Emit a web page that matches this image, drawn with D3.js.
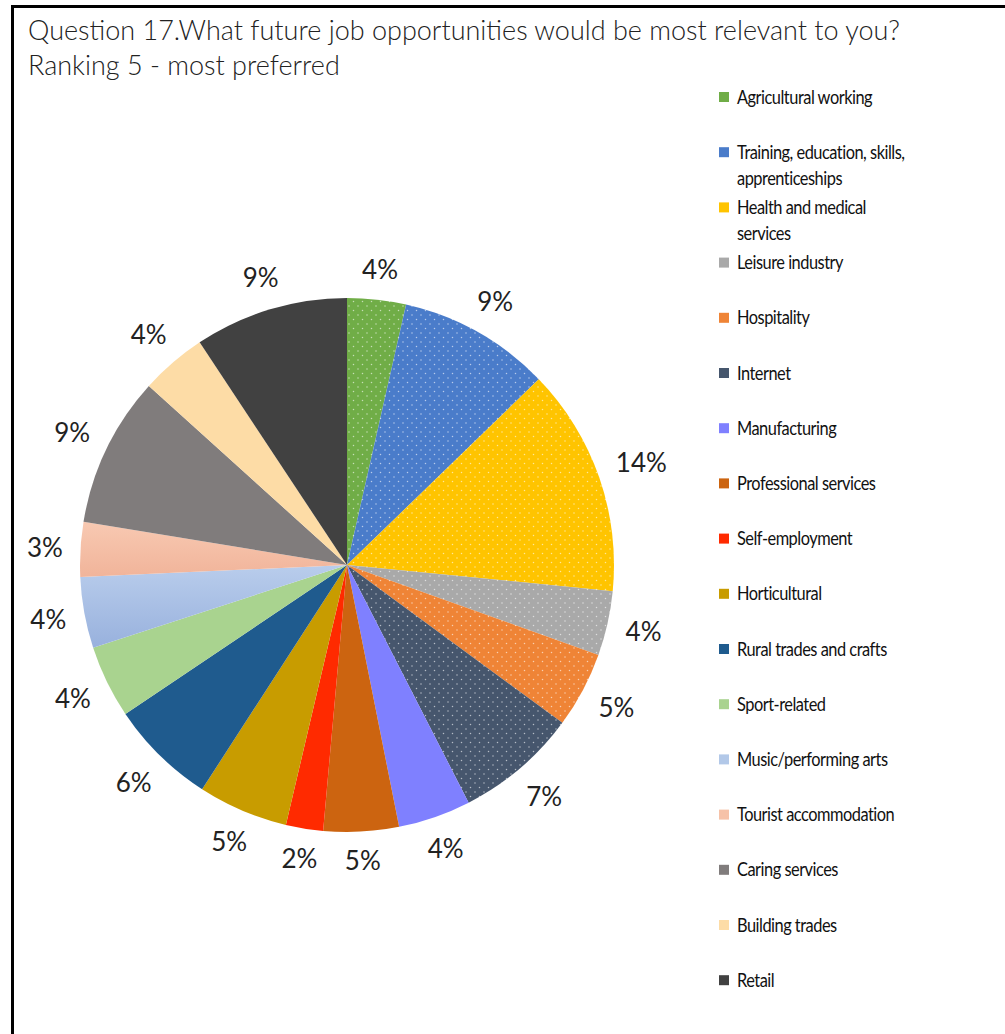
<!DOCTYPE html>
<html>
<head>
<meta charset="utf-8">
<script src="https://cdn.jsdelivr.net/npm/d3@7"></script>
<style>
  html, body { margin: 0; padding: 0; background: #fff; }
  svg { display: block; }
</style>
</head>
<body>
<svg id="chart" width="1005" height="1034"></svg>
<script>
// Job opportunity preferences (ranking 5 - most preferred), share of responses in %
const categories = [
  "Agricultural working",
  "Training, education, skills, apprenticeships",
  "Health and medical services",
  "Leisure industry",
  "Hospitality",
  "Internet",
  "Manufacturing",
  "Professional services",
  "Self-employment",
  "Horticultural",
  "Rural trades and crafts",
  "Sport-related",
  "Music/performing arts",
  "Tourist accommodation",
  "Caring services",
  "Building trades",
  "Retail"
];
const shares = [3.55, 9.2, 13.8, 3.9, 4.6, 7.4, 4.4, 4.55, 2.25, 5.45, 6.45, 4.4, 4.3, 3.3, 9.1, 4.0, 9.3];

const sliceColors = [
  "#70ad47", "#4a7cca", "#ffc400", "#a9a9a9", "#ef8436", "#46566d",
  "#7f80ff", "#cc6410", "#ff2a00", "#c89c00", "#1f5b8e", "#a9d38f",
  "#b2c8e8", "#f6c2a8", "#807c7c", "#fddca6", "#414141"
];
// slices drawn with a fine white dot texture
const dottedSlices = [true, true, true, true, true, true,
  false, false, false, false, false, false, false, false, false, false, false];

const titleLines = [
  "Question 17.What future job opportunities would be most relevant to you?",
  "Ranking 5 - most preferred"
];

const svg = d3.select("#chart");
const defs = svg.append("defs");

// frame
svg.append("path")
  .attr("d", "M12.5,1034 L12.5,6.5 L1005,6.5")
  .attr("fill", "none")
  .attr("stroke", "#000")
  .attr("stroke-width", 3);

// title
svg.append("g")
  .selectAll("text")
  .data(titleLines)
  .join("text")
  .attr("x", 28)
  .attr("y", (d, i) => 40 + i * 35)
  .attr("font-family", "Lato, sans-serif")
  .attr("font-weight", 300)
  .attr("font-size", 27)
  .attr("fill", "#222")
  .text(d => d);

// dotted fill patterns
sliceColors.forEach((c, i) => {
  if (!dottedSlices[i]) return;
  const p = defs.append("pattern")
    .attr("id", "dots" + i)
    .attr("patternUnits", "userSpaceOnUse")
    .attr("width", 9).attr("height", 9);
  p.append("rect").attr("width", 9).attr("height", 9).attr("fill", c);
  [[2, 2], [6.5, 6.5]].forEach(([x, y]) =>
    p.append("circle").attr("cx", x).attr("cy", y).attr("r", 0.75)
      .attr("fill", "#fff").attr("fill-opacity", 0.6));
});

// soft vertical gradients on the two pale slices
function vGrad(id, top, bottom) {
  const g = defs.append("linearGradient").attr("id", id)
    .attr("x1", 0).attr("y1", 0).attr("x2", 0).attr("y2", 1);
  g.append("stop").attr("offset", "0%").attr("stop-color", top);
  g.append("stop").attr("offset", "100%").attr("stop-color", bottom);
}
vGrad("gradMusic", "#b9cdec", "#98b1dd");
vGrad("gradTourist", "#f8c9b2", "#f1b49a");

function fillFor(i) {
  if (dottedSlices[i]) return "url(#dots" + i + ")";
  if (i === 12) return "url(#gradMusic)";
  if (i === 13) return "url(#gradTourist)";
  return sliceColors[i];
}

const data = categories.map((name, i) => ({ name, value: shares[i], i }));

const cx = 347, cy = 565, R = 267;
const pie = d3.pie().sort(null).value(d => d.value);
const arc = d3.arc().innerRadius(0).outerRadius(R);
const arcs = pie(data);

const pieG = svg.append("g").attr("transform", `translate(${cx},${cy})`);
pieG.selectAll("path")
  .data(arcs)
  .join("path")
  .attr("d", arc)
  .attr("fill", d => fillFor(d.data.i));

// value labels outside the slice ends
const labelG = pieG.append("g");
const fmt = v => Math.round(v) + "%";
const gap = 17, halfH = 11;
arcs.forEach(d => {
  const t = labelG.append("text")
    .attr("font-family", "Lato, sans-serif")
    .attr("font-size", 26)
    .attr("fill", "#222")
    .attr("text-anchor", "middle")
    .attr("dy", "0.36em")
    .text(fmt(d.data.value));
  const w = t.node().getComputedTextLength();
  const a = (d.startAngle + d.endAngle) / 2;
  const sx = Math.sin(a), sy = -Math.cos(a);
  const r = R + gap + Math.abs(sx) * w / 2 + Math.abs(sy) * halfH;
  t.attr("x", sx * r).attr("y", sy * r);
});

// legend
const legendX = 719, legendY0 = 97, legendStep = 55.2, wrapWidth = 180, squeeze = 0.82;
const legend = svg.append("g");
data.forEach((d, i) => {
  const y = legendY0 + i * legendStep;
  legend.append("rect")
    .attr("x", legendX).attr("y", y - 5)
    .attr("width", 10).attr("height", 10)
    .attr("fill", sliceColors[i]);
  const tg = legend.append("g")
    .attr("transform", `translate(737,${y + 6.5}) scale(${squeeze},1)`);
  // word wrap
  const words = d.name.split(" ");
  const lines = [];
  let line = [];
  const probe = tg.append("text")
    .attr("font-family", "Lato, sans-serif")
    .attr("font-size", 20)
    .attr("letter-spacing", -0.6);
  words.forEach(wd => {
    const test = line.concat(wd).join(" ");
    probe.text(test);
    if (probe.node().getComputedTextLength() * squeeze > wrapWidth && line.length) {
      lines.push(line.join(" "));
      line = [wd];
    } else {
      line.push(wd);
    }
  });
  lines.push(line.join(" "));
  probe.remove();
  lines.forEach((ln, k) => {
    tg.append("text")
      .attr("y", k * 26)
      .attr("font-family", "Lato, sans-serif")
      .attr("font-size", 20)
      .attr("letter-spacing", -0.6)
      .attr("fill", "#111")
      .text(ln);
  });
});
</script>
</body>
</html>
